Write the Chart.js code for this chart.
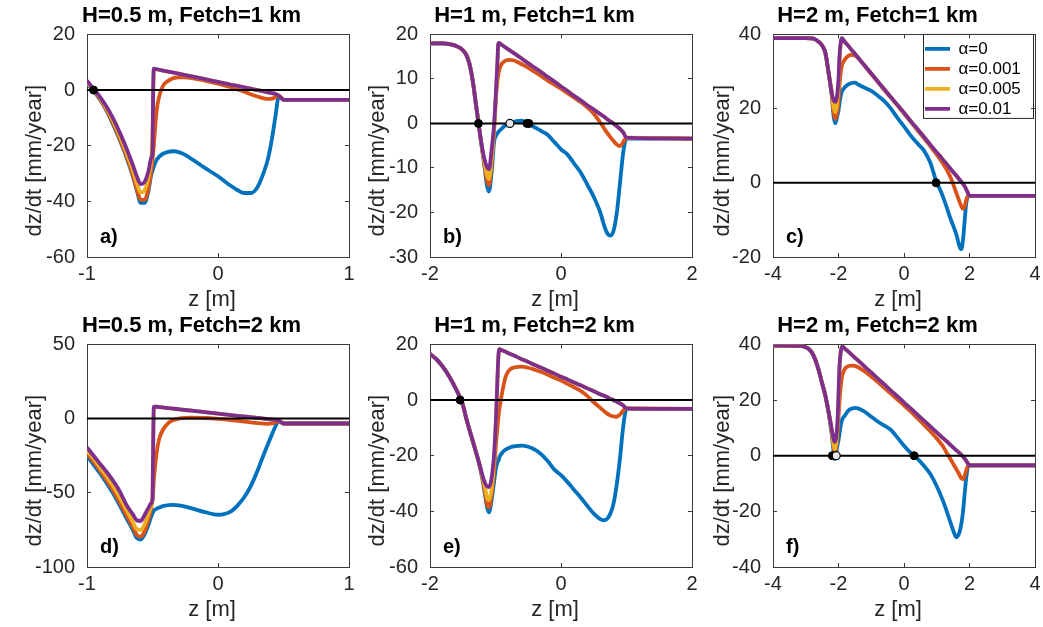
<!DOCTYPE html>
<html>
<head>
<meta charset="utf-8">
<script src="https://cdn.jsdelivr.net/npm/chart.js@4.4.0/dist/chart.umd.min.js"></script>
<style>
  html, body { margin: 0; padding: 0; background: #fff; overflow: hidden; }
  #fig { position: relative; width: 1043px; height: 627px; }
  #fig canvas { position: absolute; }
</style>
</head>
<body>
<div id="fig">
  <canvas id="p0" width="383" height="316" style="left:0;top:0"></canvas>
  <canvas id="p1" width="383" height="316" style="left:343px;top:0"></canvas>
  <canvas id="p2" width="383" height="316" style="left:686px;top:0"></canvas>
  <canvas id="p3" width="383" height="316" style="left:0;top:310px"></canvas>
  <canvas id="p4" width="383" height="316" style="left:343px;top:310px"></canvas>
  <canvas id="p5" width="383" height="316" style="left:686px;top:310px"></canvas>
</div>
<script>
// elevation grids (m) and accretion rates (mm/year) per alpha: 0, 0.001, 0.005, 0.01
const zA = [-1, -0.95, -0.9, -0.85, -0.8, -0.75, -0.7, -0.65, -0.62, -0.59, -0.56, -0.53, -0.51, -0.5, -0.495,
  -0.49, -0.47, -0.45, -0.42, -0.38, -0.34, -0.3, -0.25, -0.2, -0.1, 0, 0.1, 0.15, 0.2, 0.25,
  0.3, 0.35, 0.38, 0.41, 0.44, 0.46, 0.48, 0.5, 1];
const a0 = [2.5, -0.3, -3.5, -7.5, -12.5, -18, -24, -31, -36, -40.5, -40.5, -36, -30.5, -29, -28.2,
  -27.5, -25.2, -24, -22.9, -22.2, -22, -22.3, -23.3, -24.8, -28, -31, -34.5, -36, -37, -37,
  -35, -29.5, -25, -18, -9, -3, -2.6, -3.5, -3.5];
const a1 = [2.8, 0, -3.2, -7.2, -12, -17.5, -23.5, -30.5, -35.5, -39.5, -39.5, -35, -29, -25, -22.5,
  -20, -8, -2.5, 1.5, 3.3, 4.3, 4.6, 4.6, 4.3, 3.4, 2.3, 1, 0.2, -0.6, -1.5,
  -2.3, -3, -3.2, -3.1, -2.5, -2, -2.6, -3.5, -3.5];
const a2 = [3, 0.2, -2.8, -6.6, -11.2, -16.5, -22.3, -29, -33.5, -36.8, -36, -31, -25, -15, -3,
  7.5, 7.5, 7.3, 7.0, 6.6, 6.3, 5.9, 5.4, 4.9, 3.9, 2.9, 1.9, 1.5, 1.0, 0.5,
  0, -0.5, -0.8, -1.1, -1.4, -1.9, -2.7, -3.5, -3.5];
const a3 = [3.4, 0.4, -2.5, -6, -10.3, -15.3, -20.8, -27, -31, -33.8, -33, -29, -24.5, -22, 0,
  7.7, 7.5, 7.3, 7.0, 6.6, 6.3, 5.9, 5.4, 4.9, 3.9, 2.9, 1.9, 1.5, 1.0, 0.5,
  0, -0.5, -0.8, -1.1, -1.4, -1.9, -2.7, -3.5, -3.5];

const zB = [-2, -1.8, -1.7, -1.6, -1.5, -1.45, -1.4, -1.35, -1.3, -1.25, -1.2, -1.16, -1.13, -1.1, -1.06,
  -1.02, -0.99, -0.97, -0.96, -0.95, -0.92, -0.88, -0.83, -0.78, -0.73, -0.68, -0.6, -0.51, -0.45, -0.37,
  -0.3, -0.2, -0.1, 0, 0.1, 0.2, 0.3, 0.4, 0.5, 0.6, 0.65, 0.7, 0.75, 0.8, 0.85, 0.9, 0.95, 1, 2];
const b0 = [18, 18, 17.8, 17.4, 16.5, 15.5, 13.5, 9.8, 4.5, -1, -6.3, -10.5, -14, -15.3, -11,
  -4, -2.7, -2.2, -2, -1.8, -1.4, -0.8, -0.3, 0, 0.3, 0.5, 0.6, 0, -0.5, -1.1,
  -1.7, -2.6, -4.2, -5.8, -7, -9, -11, -13.7, -16.5, -20, -22.5, -24.5, -25.2, -24.2, -20.3, -13.5, -6.5, -3.4, -3.4];
const b1 = [18, 18, 17.8, 17.4, 16.5, 15.5, 13.5, 9.8, 4.5, -1, -6.2, -10, -12.8, -13.9, -9,
  -1, 6.5, 9.5, 10.7, 11.5, 13, 13.8, 14.2, 14.3, 14.2, 13.9, 13.3, 12.6, 12.0, 11.3,
  10.6, 9.6, 8.7, 7.8, 6.8, 5.8, 4.8, 3.6, 2.2, 0.2, -0.9, -2, -3, -3.9, -4.7, -5.1, -4.2, -3.2, -3.4];
const b2 = [18, 18, 17.8, 17.4, 16.5, 15.5, 13.5, 9.8, 4.5, -1, -6, -9.3, -11.5, -12.5, -8,
  -1, 7.5, 13.8, 17.4, 18.1, 17.8, 17.4, 16.9, 16.4, 15.9, 15.4, 14.6, 13.6, 13.0, 12.2,
  11.5, 10.4, 9.4, 8.3, 7.3, 6.2, 5.2, 4.1, 3.1, 2.1, 1.6, 1.0, 0.5, 0, -0.6, -1.2, -2.0, -3.2, -3.4];
const b3 = [18, 18, 17.8, 17.4, 16.5, 15.5, 13.5, 9.8, 4.5, -1, -5.8, -8.5, -9.8, -10.3, -6,
  0, 8, 14, 17.5, 18.1, 17.8, 17.4, 16.9, 16.4, 15.9, 15.4, 14.6, 13.6, 13.0, 12.2,
  11.5, 10.4, 9.4, 8.3, 7.3, 6.2, 5.2, 4.1, 3.1, 2.1, 1.6, 1.0, 0.5, 0, -0.6, -1.2, -2.0, -3.2, -3.4];

const zC = [-4, -3, -2.8, -2.7, -2.6, -2.5, -2.4, -2.3, -2.2, -2.15, -2.1, -2.05, -2.0, -1.97, -1.93,
  -1.9, -1.8, -1.7, -1.6, -1.5, -1.4, -1.2, -1, -0.8, -0.6, -0.4, -0.2, 0, 0.2, 0.4,
  0.6, 0.8, 1, 1.1, 1.2, 1.3, 1.4, 1.5, 1.6, 1.7, 1.75, 1.8, 1.85, 1.9, 1.95, 2, 4];
const c0 = [39, 39, 38.9, 38.6, 38, 37, 35, 29.5, 23, 18, 16, 17.5, 19.5, 21.5, 23.5,
  24.5, 25.8, 26.5, 26.9, 27, 26.5, 25.6, 24.8, 23.5, 22, 20, 17.5, 15.2, 12.8, 10.7,
  8.8, 5.5, 0, -1.8, -4, -6.5, -9.2, -11.5, -14, -17.3, -17.9, -15.5, -10.5, -5.5, -3.8, -3.5, -3.5];
const c1 = [39, 39, 38.9, 38.6, 38, 37, 35, 29.5, 23.5, 19, 17.2, 18.5, 22, 26, 30,
  31.5, 33.3, 34.2, 34.5, 34.3, 33.6, 31.5, 29.3, 27.2, 25, 22.9, 20.8, 18.7, 16.5, 14.3,
  12.1, 9.9, 7.6, 6.4, 5.1, 3.6, 1.9, -0.3, -2.8, -5.2, -6.3, -7, -6.5, -4.6, -3.6, -3.5, -3.5];
const c2 = [39, 39, 38.9, 38.6, 38, 37, 35, 29.5, 24, 20.5, 19, 21, 26, 32.5, 37.5,
  39, 37.9, 36.9, 35.8, 34.8, 33.7, 31.6, 29.5, 27.3, 25.2, 23.1, 21, 18.9, 16.7, 14.6,
  12.5, 10.3, 8.2, 7.2, 6.1, 5.1, 4.0, 2.9, 1.9, 0.8, 0.3, -0.3, -0.9, -1.8, -2.7, -3.5, -3.5];
const c3 = [39, 39, 38.9, 38.6, 38, 37, 35, 29.5, 24, 22.3, 21.8, 23, 28, 34, 38,
  39, 37.9, 36.9, 35.8, 34.8, 33.7, 31.6, 29.5, 27.3, 25.2, 23.1, 21, 18.9, 16.7, 14.6,
  12.5, 10.3, 8.2, 7.2, 6.1, 5.1, 4.0, 2.9, 1.9, 0.8, 0.3, -0.3, -0.9, -1.8, -2.7, -3.5, -3.5];

const zD = [-1, -0.95, -0.9, -0.85, -0.8, -0.75, -0.7, -0.65, -0.62, -0.59, -0.56, -0.53, -0.51, -0.5, -0.495,
  -0.49, -0.47, -0.45, -0.42, -0.38, -0.34, -0.3, -0.25, -0.2, -0.1, 0, 0.1, 0.15, 0.2, 0.25,
  0.3, 0.35, 0.38, 0.41, 0.44, 0.46, 0.48, 0.5, 1];
const d0 = [-25, -31, -37, -43.5, -50.5, -58.5, -67, -75, -80.5, -81.5, -78, -71.5, -66, -64, -63,
  -62, -60.8, -60, -59, -58.3, -58.2, -58.5, -59.3, -60.5, -63, -64.8, -62.5, -58.5, -53, -45.5,
  -35.5, -24, -17.5, -11, -5, -1.8, -2.5, -3.3, -3.3];
const d1 = [-23.4, -29, -35, -41.5, -48.5, -56.5, -65, -73, -78.5, -79.5, -76, -68, -60, -55, -50,
  -42, -24, -14, -7.5, -3, -1, 0, 0.5, 0.7, 0.4, -0.2, -1, -1.5, -2, -2.5,
  -3, -3.4, -3.5, -3.3, -2.5, -1.8, -2.5, -3.3, -3.3];
const d2 = [-21.6, -27, -33, -39, -45.5, -53, -61.5, -69.5, -74.5, -75, -71, -64, -59, -52, -15,
  7.5, 8, 7.8, 7.5, 7.1, 6.7, 6.3, 5.8, 5.3, 4.4, 3.4, 2.4, 1.9, 1.5, 1,
  0.5, 0, -0.3, -0.6, -0.9, -1.2, -2.2, -3.3, -3.3];
const d3 = [-19.5, -25, -30.5, -36, -42, -49, -58, -64.5, -68.5, -69, -65, -60, -57, -54, -20,
  8, 8, 7.8, 7.5, 7.1, 6.7, 6.3, 5.8, 5.3, 4.4, 3.4, 2.4, 1.9, 1.5, 1,
  0.5, 0, -0.3, -0.6, -0.9, -1.2, -2.2, -3.3, -3.3];

const zE = [-2, -1.9, -1.8, -1.7, -1.6, -1.5, -1.45, -1.4, -1.35, -1.3, -1.25, -1.2, -1.16, -1.13, -1.1,
  -1.06, -1.02, -0.99, -0.97, -0.955, -0.94, -0.9, -0.85, -0.8, -0.7, -0.6, -0.5, -0.4, -0.3, -0.2,
  -0.1, 0, 0.1, 0.2, 0.3, 0.4, 0.5, 0.6, 0.65, 0.7, 0.75, 0.8, 0.85, 0.9, 0.95, 1, 2];
const e0 = [16.6, 14.6, 11.8, 8.2, 3.8, -1.6, -6.3, -10.5, -14.5, -18.6, -23, -28.5, -34, -38.5, -40.4,
  -36, -29, -24, -22.5, -21.8, -20.5, -19, -17.9, -17.2, -16.6, -16.4, -16.8, -17.8, -19.5, -22,
  -25, -27, -29.5, -32.3, -35, -38, -40.8, -42.8, -43.2, -42.8, -41, -37.4, -30.5, -21, -9.5, -3.2, -3.2];
const e1 = [16.6, 14.6, 11.8, 8.2, 3.8, -1.6, -6.3, -10.5, -14.5, -18.6, -22.8, -28, -33, -37.5, -38.6,
  -34, -25, -15, -10, -6, -3, 2.5, 8, 10.5, 11.8, 12, 11.6, 10.9, 10.1, 9.1,
  8, 7, 5.8, 4.6, 3.3, 1.5, -0.8, -2.8, -3.8, -4.8, -5.5, -5.9, -6, -5.2, -3.8, -3, -3.2];
const e2 = [16.6, 14.6, 11.8, 8.2, 3.8, -1.6, -6.3, -10.5, -14.5, -18.6, -22.5, -27.5, -31.5, -35, -36,
  -32, -21, -6, 7, 15.5, 18.3, 17.9, 17.4, 16.8, 15.8, 14.7, 13.7, 12.6, 11.6, 10.5,
  9.5, 8.4, 7.4, 6.3, 5.3, 4.2, 3.2, 2.1, 1.6, 1.1, 0.5, 0, -0.6, -1.2, -2, -3, -3.2];
const e3 = [16.6, 14.6, 11.8, 8.2, 3.8, -1.6, -6.3, -10.5, -14.5, -18.6, -22.5, -27, -29.8, -31, -31.3,
  -28, -19, -5, 8, 16, 18.3, 17.9, 17.4, 16.8, 15.8, 14.7, 13.7, 12.6, 11.6, 10.5,
  9.5, 8.4, 7.4, 6.3, 5.3, 4.2, 3.2, 2.1, 1.6, 1.1, 0.5, 0, -0.6, -1.2, -2, -3, -3.2];

const zF = [-4, -3.2, -3, -2.9, -2.8, -2.7, -2.6, -2.5, -2.4, -2.3, -2.25, -2.2, -2.15, -2.12, -2.09,
  -2.05, -2.02, -2.0, -1.97, -1.93, -1.9, -1.87, -1.8, -1.7, -1.6, -1.5, -1.4, -1.2, -1, -0.8,
  -0.6, -0.4, -0.2, 0, 0.2, 0.3, 0.4, 0.6, 0.8, 1, 1.2, 1.3, 1.4, 1.5, 1.6,
  1.7, 1.75, 1.8, 1.85, 1.9, 1.95, 2, 4];
const f0 = [39.6, 39.5, 39, 38.3, 36.8, 34.2, 30.5, 26, 21.5, 15.5, 11.2, 7, 1.5, -1.2, -0.5,
  2.5, 4.5, 5.5, 8, 11, 12.5, 13.5, 14.5, 16.2, 16.9, 17.2, 17, 15.8, 14, 12.3,
  10.8, 9.3, 6.5, 3.6, 1.1, 0, -1, -3.5, -6.5, -11, -16.5, -19.8, -23.3, -26.8, -29.3,
  -27.3, -24.5, -20.3, -14, -8, -4.2, -3.5, -3.5];
const f1 = [39.6, 39.5, 39, 38.3, 36.8, 34.2, 30.5, 26, 21.5, 15.5, 12, 8, 3.5, 1.2, 2,
  5, 10, 14, 19.5, 25, 28, 29.5, 31.3, 32.2, 32.4, 32.3, 31.8, 30.3, 28.5, 26.5,
  24.4, 22.3, 20.2, 18.1, 15.9, 14.8, 13.6, 11.2, 8.8, 6.2, 3.2, 1.1, -0.8, -2.9, -4.9,
  -7, -8.2, -8.4, -7.3, -5.3, -3.8, -3.5, -3.5];
const f2 = [39.6, 39.5, 39, 38.3, 36.8, 34.2, 30.5, 26, 21.5, 15.5, 12.3, 8.5, 4, 2.4, 3,
  7, 13, 20, 31, 37.5, 39, 39.2, 38.4, 37.4, 36.3, 35.2, 34.2, 32, 29.9, 27.7,
  25.6, 23.4, 21.3, 19.1, 17, 15.9, 14.8, 12.7, 10.5, 8.4, 6.2, 5.2, 4.1, 3.0, 1.9,
  0.9, 0.3, -0.3, -1, -1.8, -2.8, -3.5, -3.5];
const f3 = [39.6, 39.5, 39, 38.3, 36.8, 34.2, 30.5, 26, 21.5, 15.5, 12.5, 9, 6, 5, 5.5,
  9, 15, 22, 32, 37.5, 39, 39.2, 38.4, 37.4, 36.3, 35.2, 34.2, 32, 29.9, 27.7,
  25.6, 23.4, 21.3, 19.1, 17, 15.9, 14.8, 12.7, 10.5, 8.4, 6.2, 5.2, 4.1, 3.0, 1.9,
  0.9, 0.3, -0.3, -1, -1.8, -2.8, -3.5, -3.5];

// equilibrium elevations (dz/dt = 0): stable filled, unstable open
const stablePoints = [[-0.95], [-1.26, -0.52, -0.49], [0.98], [], [-1.54], [-2.19, 0.31]];
const unstablePoints = [[], [-0.78], [], [], [], [-2.07]];

const panelTitles = ['H=0.5 m, Fetch=1 km', 'H=1 m, Fetch=1 km', 'H=2 m, Fetch=1 km',
  'H=0.5 m, Fetch=2 km', 'H=1 m, Fetch=2 km', 'H=2 m, Fetch=2 km'];
const panelTags = ['a)', 'b)', 'c)', 'd)', 'e)', 'f)'];
const zLimits = [[-1, 1], [-2, 2], [-4, 4], [-1, 1], [-2, 2], [-4, 4]];
const zSteps = [1, 2, 2, 1, 2, 2];
const rateLimits = [[-60, 20], [-30, 20], [-20, 40], [-100, 50], [-60, 20], [-40, 40]];
const rateSteps = [20, 10, 20, 50, 20, 20];
const seriesLabels = ['α=0', 'α=0.001', 'α=0.005', 'α=0.01'];
const zAxisTitle = 'z [m]';
const rateAxisTitle = 'dz/dt [mm/year]';

const panels = [
  { z: zA, rates: [a0, a1, a2, a3] },
  { z: zB, rates: [b0, b1, b2, b3] },
  { z: zC, rates: [c0, c1, c2, c3] },
  { z: zD, rates: [d0, d1, d2, d3] },
  { z: zE, rates: [e0, e1, e2, e3] },
  { z: zF, rates: [f0, f1, f2, f3] }
];

const lineColors = ['#0072BD', '#D95319', '#EDB120', '#7E2F8E'];
const axisColor = '#3a3a3a';
const fontFamily = '"Liberation Sans", Arial, Helvetica, sans-serif';
const yTitleGap = [52, 52, 50];

Chart.defaults.font.family = fontFamily;

function edgeAxis(position, limits, step, labelled, size) {
  const horizontal = position === 'top' || position === 'bottom';
  return {
    type: 'linear',
    position: position,
    min: limits[0],
    max: limits[1],
    ticks: {
      display: labelled,
      stepSize: step,
      color: '#262626',
      font: { size: 20 },
      padding: horizontal ? 9.5 : 16,
      maxRotation: 0,
      autoSkip: false
    },
    grid: { drawOnChartArea: false, drawTicks: true, tickLength: -4, color: axisColor, lineWidth: 1 },
    border: { display: true, color: axisColor, width: 1 },
    afterFit: (scale) => {
      if (horizontal) scale.height = size; else scale.width = size;
    }
  };
}

// axis titles and the panel letter
function panelText(i) {
  return {
    id: 'panelText',
    afterDraw(chart) {
      const { ctx, chartArea: ca } = chart;
      ctx.save();
      ctx.fillStyle = '#262626';
      ctx.font = '22px ' + fontFamily;
      ctx.textAlign = 'center';
      ctx.textBaseline = 'middle';
      ctx.fillText(zAxisTitle, (ca.left + ca.right) / 2 - 6, ca.bottom + 43);
      ctx.translate(ca.left - yTitleGap[i % 3], (ca.top + ca.bottom) / 2 + 15);
      ctx.rotate(-Math.PI / 2);
      ctx.fillText(rateAxisTitle, 0, 0);
      ctx.restore();

      ctx.save();
      ctx.fillStyle = '#000';
      ctx.font = 'bold 20px ' + fontFamily;
      ctx.textAlign = 'left';
      ctx.textBaseline = 'middle';
      ctx.fillText(panelTags[i], ca.left + 13, ca.bottom - 20);
      ctx.restore();
    }
  };
}

// legend sits in the upper right corner of the plot, inside a framed box
const legendFrame = {
  id: 'legendFrame',
  afterLayout(chart) {
    const lg = chart.legend;
    if (!lg || !chart.options.plugins.legend.display) return;
    const ca = chart.chartArea;
    const left = ca.right - 112;
    lg.left = left - 1;
    lg.right = left + 115;
    lg.top = ca.top + 3;
    lg.bottom = ca.top + 95;
  },
  beforeDraw(chart) {
    if (!chart.options.plugins.legend.display) return;
    const { ctx, chartArea: ca } = chart;
    ctx.save();
    ctx.fillStyle = '#fff';
    ctx.strokeStyle = '#262626';
    ctx.lineWidth = 1;
    ctx.fillRect(ca.right - 111.5, ca.top, 110, 84);
    ctx.strokeRect(ca.right - 111.5, ca.top, 110, 84);
    ctx.restore();
  }
};

function makeChart(i) {
  const p = panels[i];
  const lim = zLimits[i];
  const datasets = p.rates.map((vals, k) => ({
    label: seriesLabels[k],
    data: p.z.map((z, j) => ({ x: z, y: vals[j] })),
    borderColor: lineColors[k],
    backgroundColor: lineColors[k],
    borderWidth: 3.8,
    pointRadius: 0,
    cubicInterpolationMode: 'monotone',
    order: 6 - k
  }));
  datasets.push({
    label: 'zero',
    data: [{ x: lim[0], y: 0 }, { x: lim[1], y: 0 }],
    borderColor: '#000',
    borderWidth: 2,
    pointRadius: 0,
    order: 2
  });
  datasets.push({
    label: 'stable',
    data: stablePoints[i].map(z => ({ x: z, y: 0 })),
    showLine: false,
    pointRadius: 4,
    pointBackgroundColor: '#000',
    pointBorderColor: '#000',
    pointBorderWidth: 1,
    order: 1
  });
  datasets.push({
    label: 'unstable',
    data: unstablePoints[i].map(z => ({ x: z, y: 0 })),
    showLine: false,
    pointRadius: 4,
    pointBackgroundColor: '#e6e6e6',
    pointBorderColor: '#000',
    pointBorderWidth: 1.2,
    order: 0
  });

  new Chart(document.getElementById('p' + i), {
    type: 'line',
    data: { datasets },
    options: {
      responsive: false,
      animation: false,
      events: [],
      devicePixelRatio: 1,
      layout: { padding: 0 },
      scales: {
        x: edgeAxis('bottom', zLimits[i], zSteps[i], true, 59),
        x2: edgeAxis('top', zLimits[i], zSteps[i], false, 0),
        y: edgeAxis('left', rateLimits[i], rateSteps[i], true, 87),
        y2: edgeAxis('right', rateLimits[i], rateSteps[i], false, 34)
      },
      plugins: {
        title: {
          display: true,
          text: panelTitles[i],
          color: '#000',
          font: { size: 22, weight: 'bold' },
          padding: { top: 3, bottom: 5 }
        },
        legend: {
          display: i === 2,
          position: 'chartArea',
          align: 'start',
          labels: {
            usePointStyle: true,
            pointStyle: 'line',
            pointStyleWidth: 25,
            color: '#000',
            font: { size: 17 },
            padding: 3,
            filter: item => item.datasetIndex < 4,
            sort: (a, b) => a.datasetIndex - b.datasetIndex
          }
        },
        tooltip: { enabled: false }
      }
    },
    plugins: [panelText(i), legendFrame]
  });
}

for (let i = 0; i < panels.length; i++) makeChart(i);
</script>
</body>
</html>
